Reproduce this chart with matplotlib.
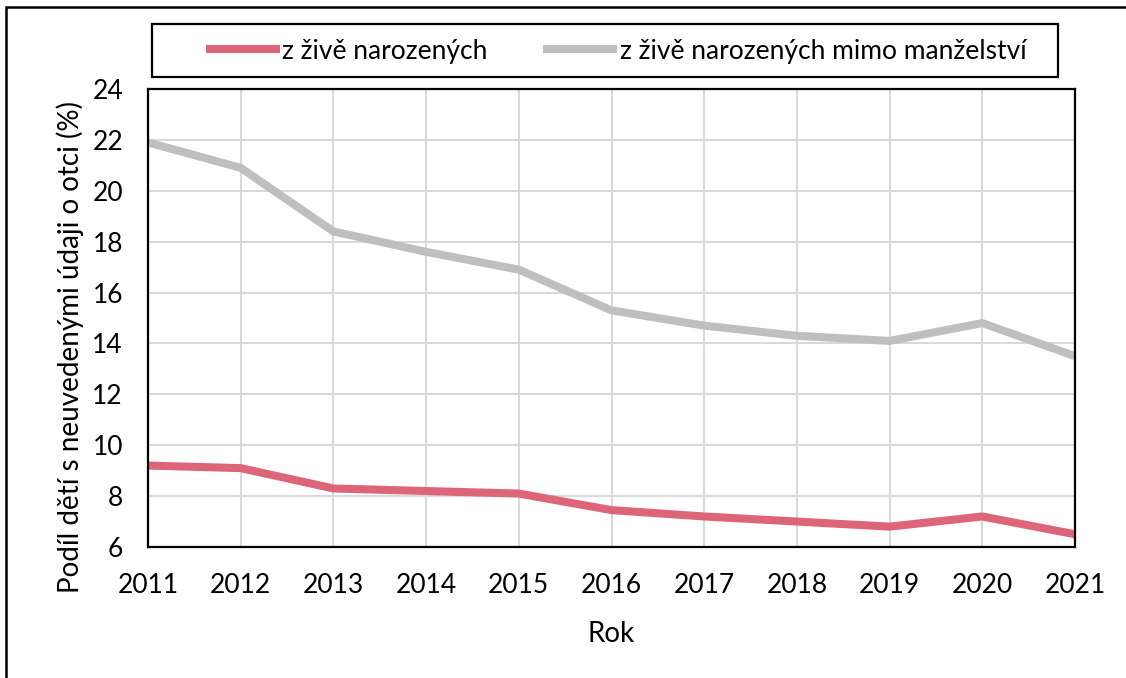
import matplotlib.pyplot as plt
from matplotlib.patches import Rectangle

# data
years = [2011, 2012, 2013, 2014, 2015, 2016, 2017, 2018, 2019, 2020, 2021]
all_births = [9.2, 9.1, 8.3, 8.2, 8.1, 7.45, 7.2, 7.0, 6.8, 7.2, 6.5]
outside_marriage = [21.9, 20.9, 18.4, 17.6, 16.9, 15.3, 14.7, 14.3, 14.1, 14.8, 13.5]
labels = ['z živě narozených', 'z živě narozených mimo manželství']

plt.rcParams['font.family'] = ['Lato', 'DejaVu Sans']

W, H = 1126, 678
fig = plt.figure(figsize=(W / 100, H / 100), dpi=100)
ax = fig.add_axes([148 / W, 1 - 547 / H, (1075 - 148) / W, (547 - 89) / H])

ax.plot(years, all_births, color='#dc6678', lw=5.8, solid_capstyle='butt', label=labels[0])
ax.plot(years, outside_marriage, color='#bfbfbf', lw=5.8, solid_capstyle='butt', label=labels[1])

ax.set_xlim(2011, 2021)
ax.set_ylim(6, 24)
ax.set_xticks(years)
ax.set_yticks(range(6, 25, 2))
ax.grid(True, color='#d9d9d9', lw=1.5)
ax.set_axisbelow(True)
for s in ax.spines.values():
    s.set_color('black')
    s.set_linewidth(1.6)
ax.tick_params(length=0, labelsize=19)
ax.tick_params(axis='x', pad=19)
ax.tick_params(axis='y', pad=18)

ax.set_xlabel('Rok', fontsize=20, labelpad=16)
ax.set_ylabel('Podíl dětí s neuvedenými údaji o otci (%)', fontsize=20)
ax.yaxis.set_label_coords((84 - 148) / 927, 1 - (347 - 89) / 458)

# legend without its own frame; the frame is drawn as a separate box
leg = ax.legend(loc='center', bbox_to_anchor=(616 / W, 1 - 51 / H),
                bbox_transform=fig.transFigure, ncol=2, fontsize=19,
                frameon=False, handlelength=2.8, handletextpad=0.1,
                columnspacing=2.1)
fig.patches.append(Rectangle((152 / W, 1 - 77 / H), (1058 - 152) / W, 53 / H,
                             transform=fig.transFigure, fill=False,
                             edgecolor='black', lw=1.6))

# outer chart border (runs off the right and bottom of the image)
fig.patches.append(Rectangle((6 / W, -0.1), 1.2, 1.1 - 7 / H,
                             transform=fig.transFigure, fill=False,
                             edgecolor='black', lw=1.8, clip_on=False))

fig.savefig('out.png', dpi=100)
